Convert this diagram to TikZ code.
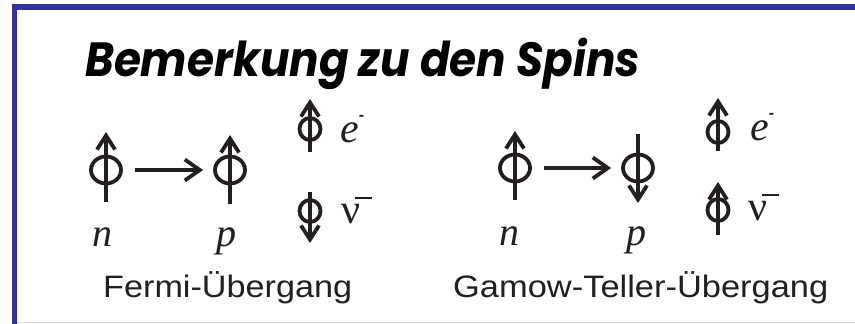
\documentclass[tikz,border=0pt]{standalone}
\usepackage{fontspec}
\usepackage{graphicx}
\setmainfont{Liberation Serif}
\newfontfamily\capfont{Liberation Sans}
\newfontfamily\titlefont{Poppins}
\usetikzlibrary{arrows.meta,shapes.geometric}
\definecolor{frameblue}{RGB}{51,51,153}
\definecolor{ink}{RGB}{35,31,32}
\definecolor{lightline}{RGB}{218,218,232}
\newcommand{\spinsym}[6]{%
  \node[#6] (#1) at (#2,#3) {};
  \draw[spinline] (#2,#4) -- (#2,#5);
}
\newcommand{\chargeminus}{\raisebox{22pt}{\capfont\bfseries\fontsize{16}{16}\selectfont -}}
\begin{document}
\begin{tikzpicture}[x=1pt,y=-1pt,
  spinbig/.style={ellipse, draw=ink, line width=3.8pt, minimum width=30pt, minimum height=27pt, inner sep=0pt},
  spinsmall/.style={ellipse, draw=ink, line width=3.8pt, minimum width=21pt, minimum height=22pt, inner sep=0pt},
  spinline/.style={draw=ink, line width=3.8pt, -{Straight Barb[length=14pt,width=18pt]}},
  conn/.style={draw=ink, line width=3.8pt, -{Straight Barb[length=15pt,width=21pt]}},
  lab/.style={text=ink, inner sep=0pt, font=\fontsize{40}{40}\selectfont\itshape},
  elab/.style={text=ink, inner sep=0pt, font=\fontsize{42}{42}\selectfont\itshape, anchor=base west},
  nulab/.style={text=ink, inner sep=0pt, font=\fontsize{42}{42}\selectfont, anchor=base west},
  caption/.style={text=ink, inner sep=0pt, anchor=base west, font=\capfont\fontsize{31}{31}\selectfont},
  title/.style={text=black, inner sep=0pt, anchor=base west, font=\titlefont\bfseries\itshape\fontsize{48}{48}\selectfont}]
\useasboundingbox (0,0) rectangle (855,324);
% frame
\fill[white] (0,0) rectangle (855,324);
\fill[frameblue] (11.7,4.3) rectangle (855,10);
\fill[frameblue] (11.7,4.3) rectangle (17.3,324);
\draw[lightline, line width=1.5pt] (17.3,322.5) -- (855,322.5);
% title
\node[title] (title) at (85,77) {\resizebox{555pt}{\height}{Bemerkung zu den Spins}};
% left group: Fermi
\spinsym{nL}{106}{170}{202}{132}{spinbig}
\spinsym{pL}{230}{170}{204}{135}{spinbig}
\spinsym{eL}{310}{129}{152}{99}{spinsmall}
\spinsym{vL}{310}{211}{192}{243}{spinsmall}
\draw[conn, shorten <=12pt, shorten >=10pt] (nL) -- (pL);
\node[lab, anchor=base] (nLl) at (102,246) {n};
\node[lab, anchor=base] (pLl) at (226,246) {p};
\node[elab] (eLl) at (340,142) {e\chargeminus};
\node[nulab] (vLl) at (341,223) {ν\kern-5pt\raisebox{24pt}{\rule{17pt}{2pt}}};
\node[caption] (fermi) at (103,297) {\resizebox{249pt}{\height}{Fermi-Übergang}};
% right group: Gamow-Teller
\spinsym{nR}{515}{168}{200}{131}{spinbig}
\spinsym{pR}{638}{168}{134}{203}{spinbig}
\spinsym{eR}{718}{132}{151}{98}{spinsmall}
\spinsym{vR}{718}{210}{235}{182}{spinsmall}
\draw[conn, shorten <=12pt, shorten >=10pt] (nR) -- (pR);
\node[lab, anchor=base] (nRl) at (509,245) {n};
\node[lab, anchor=base] (pRl) at (636,245) {p};
\node[elab] (eRl) at (750,140) {e\chargeminus};
\node[nulab] (vRl) at (748,220) {ν\kern-5pt\raisebox{24pt}{\rule{17pt}{2pt}}};
\node[caption] (gt) at (453,297) {\resizebox{375pt}{\height}{Gamow-Teller-Übergang}};
\end{tikzpicture}
\end{document}
